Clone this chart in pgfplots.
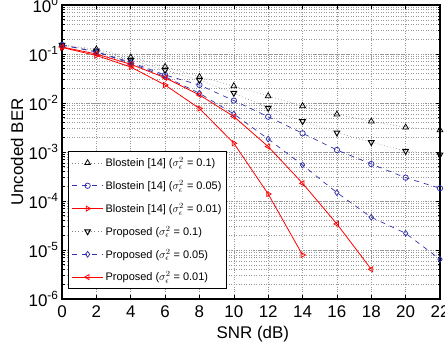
\documentclass[border=0pt]{standalone}
\usepackage{fontspec}
\setmainfont{Liberation Sans}
\usepackage{pgfplots}
\pgfplotsset{compat=1.18}
\usetikzlibrary{calc}
\definecolor{mblue}{RGB}{50,50,170}
\begin{document}
\begin{tikzpicture}
\begin{axis}[name=ax, scale only axis, width=378bp, height=294bp,
  ymode=log, xmin=0, xmax=22, ymin=1e-6, ymax=1,
  xtick={0,2,...,22},
  ytick={1e-6,1e-5,1e-4,1e-3,1e-2,1e-1,1},
  yticklabels={10\textsuperscript{-6},10\textsuperscript{-5},10\textsuperscript{-4},10\textsuperscript{-3},10\textsuperscript{-2},10\textsuperscript{-1},10\textsuperscript{0}},
  /pgf/number format/assume math mode=true,
  ticklabel style={font=\fontsize{17}{17}\selectfont},
  label style={font=\fontsize{17}{17}\selectfont},
  xlabel={SNR (dB)}, ylabel={Uncoded BER},
  xlabel style={at={(axis description cs:0.505,-0.133)}, anchor=base},
  ylabel style={at={(axis description cs:-0.119,0.5)}, anchor=center},
  xticklabel style={yshift=-3pt},
  axis line style={line width=1.2pt},
  tick style={black, line width=0.6pt},
  major tick length=4bp, minor tick length=2.5bp,
  xmajorgrids, ymajorgrids, yminorgrids,
  grid style={dotted, gray!80, line width=0.5pt},
  minor grid style={dotted, gray!80, line width=0.5pt},
  legend cell align=left,
  legend style={at={(axis description cs:0.016,0.505)}, anchor=north west,
    draw=black, line width=1.2pt, font=\fontsize{11}{12}\selectfont,
    row sep=8.3pt, inner xsep=3pt, inner ysep=4.5pt},
  legend image code/.code={\draw[mark repeat=2,mark phase=2] plot coordinates {(0cm,0cm)(0.55cm,0cm)(1.1cm,0cm)};},
]
\addplot[gray, line width=0.6pt, dash pattern=on 0.7pt off 2.5pt, mark=triangle, mark size=3.3pt, mark options={black, solid, line width=0.75pt}]
 coordinates {(0,0.153)(2,0.125)(4,0.0857)(6,0.0551)(8,0.0344)(10,0.0222)(12,0.0139)(14,0.00869)(16,0.00587)(18,0.00424)(20,0.00319)(22,0.00281)};
\addlegendentry{Blostein [14] ($\sigma_{\epsilon}^{2}$ = 0.1)}
\addplot[mblue, line width=0.7pt, dash pattern=on 5pt off 5pt, mark=o, mark size=2.7pt, mark options={solid, line width=0.75pt}]
 coordinates {(0,0.153)(2,0.111)(4,0.0678)(6,0.0373)(8,0.0233)(10,0.0112)(12,0.00525)(14,0.00241)(16,0.00110)(18,0.000569)(20,0.000299)(22,0.000182)};
\addlegendentry{Blostein [14] ($\sigma_{\epsilon}^{2}$ = 0.05)}
\addplot[red, line width=0.8pt, mark=triangle, mark size=3pt, mark options={solid, rotate=-90, line width=0.75pt}]
 coordinates {(0,0.136)(2,0.0931)(4,0.0543)(6,0.0233)(8,0.00773)(10,0.00151)(12,0.000139)(14,7.91e-6)};
\addlegendentry{Blostein [14] ($\sigma_{\epsilon}^{2}$ = 0.01)}
\addplot[gray, line width=0.6pt, dash pattern=on 0.7pt off 2.5pt, mark=triangle, mark size=3.3pt, mark options={black, solid, rotate=180, line width=0.95pt}]
 coordinates {(0,0.153)(2,0.117)(4,0.0755)(6,0.0471)(8,0.0294)(10,0.0160)(12,0.00791)(14,0.00424)(16,0.00248)(18,0.00158)(20,0.00105)(22,0.000881)};
\addlegendentry{Proposed ($\sigma_{\epsilon}^{2}$ = 0.1)}
\addplot[mblue, line width=0.7pt, dash pattern=on 5pt off 5pt, mark=diamond, mark size=2.9pt, mark options={solid, line width=0.75pt}]
 coordinates {(0,0.153)(2,0.110)(4,0.0646)(6,0.0344)(8,0.0158)(10,0.00597)(12,0.00184)(14,0.000543)(16,0.000148)(18,4.65e-5)(20,2.19e-5)(22,6.46e-6)};
\addlegendentry{Proposed ($\sigma_{\epsilon}^{2}$ = 0.05)}
\addplot[red, line width=0.8pt, mark=triangle, mark size=3pt, mark options={solid, rotate=90, line width=0.75pt}]
 coordinates {(0,0.139)(2,0.100)(4,0.0617)(6,0.0328)(8,0.0146)(10,0.00530)(12,0.00129)(14,0.000230)(16,3.40e-5)(18,4.04e-6)};
\addlegendentry{Proposed ($\sigma_{\epsilon}^{2}$ = 0.01)}
\end{axis}
\pgfresetboundingbox
\path[use as bounding box] ($(ax.south west)+(-62bp,-50bp)$) rectangle ($(ax.north east)+(5bp,5bp)$);
\end{tikzpicture}
\end{document}
